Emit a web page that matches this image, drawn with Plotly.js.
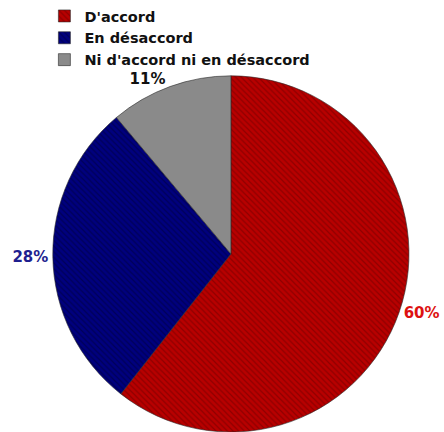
<!DOCTYPE html>
<html>
<head>
<meta charset="utf-8">
<script src="https://cdn.plot.ly/plotly-3.0.1.min.js"></script>
<style>html,body{margin:0;padding:0;background:#fff;}#chart{width:444px;height:432px;}</style>
</head>
<body>
<div id="chart"></div>
<script>
const labels = ["D'accord", "En désaccord", "Ni d'accord ni en désaccord"];
const values = [60, 28, 11];
const sliceColors = ["#b80000", "#00007e", "#8a8a8a"];
const hatchColors = ["#8e0000", "#000058", "#8a8a8a"];
const textColors = ["#dd1111", "#1f1f8f", "#111111"];

const trace = {
  type: 'pie',
  labels: labels,
  values: values,
  sort: false,
  direction: 'clockwise',
  rotation: 0,
  texttemplate: '%{value}%',
  textposition: 'outside',
  outsidetextfont: {family: 'DejaVu Sans', size: 15, weight: 'bold', color: textColors},
  marker: {
    colors: sliceColors,
    line: {color: '#2a2a2a', width: 0.6},
    pattern: {shape: ['\\', '\\', ''], fgcolor: hatchColors, bgcolor: sliceColors, size: 4, solidity: 0.3, fillmode: 'replace'}
  },
  domain: {x: [0.105, 0.935], y: [0.0, 0.842]},
  hoverinfo: 'none'
};

const layout = {
  width: 444, height: 432,
  margin: {l: 0, r: 0, t: 0, b: 0},
  paper_bgcolor: '#ffffff',
  showlegend: true,
  legend: {x: 0.1, y: 1.022, xanchor: 'left', yanchor: 'top', traceorder: 'normal',
    font: {family: 'DejaVu Sans', size: 14.5, weight: 'bold', color: '#111111'}, tracegroupgap: 0, itemwidth: 30, bgcolor: 'rgba(0,0,0,0)'}
};
Plotly.newPlot('chart', [trace], layout, {displayModeBar: false, staticPlot: true});
</script>
</body>
</html>
